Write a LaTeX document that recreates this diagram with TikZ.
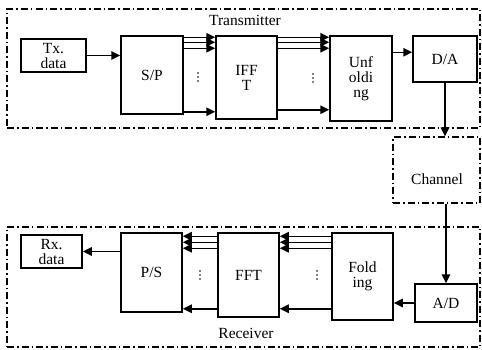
\documentclass[tikz,border=0pt]{standalone}
\usepackage{fontspec}
\setmainfont{Liberation Serif}
\usetikzlibrary{arrows.meta,calc}

\begin{document}
\begin{tikzpicture}[x=1pt, y=-1pt, >={Triangle[length=9pt,width=8.5pt]},
  every node/.style={font=\fontsize{15.5}{15}\selectfont},
  blk/.style={draw, line width=1.5pt, inner sep=0pt, align=center},
  dashframe/.style={draw, line width=1.3pt, dash pattern=on 7pt off 3pt on 1.5pt off 3pt, inner sep=0pt},
  arr/.style={->, line width=1.5pt},
  dot/.style={fill, radius=0.9pt}]
  \useasboundingbox (0,0) rectangle (482,349);
  % frames
  \node[dashframe, minimum width=473pt, minimum height=119pt] (txframe) at (243.5,68.5) {};
  \node[dashframe, minimum width=473pt, minimum height=120pt] (rxframe) at (243.5,287) {};
  \node[dashframe, minimum width=87pt, minimum height=66pt] (chan) at (436.5,170) {};
  \node (txlabel) at (245,20) {Transmitter};
  \node (rxlabel) at (246,333) {Receiver};
  \node (chanlabel) at (437,179) {Channel};
  % transmitter blocks
  \node[blk, minimum width=65pt, minimum height=33pt] (txd) at (53.5,55.5) {Tx.\\data};
  \node[blk, minimum width=62pt, minimum height=78pt] (sp) at (152,75) {S/P};
  \node[blk, minimum width=61pt, minimum height=83pt] (ifft) at (246.5,77.5) {IFF\\T};
  \node[blk, minimum width=62pt, minimum height=85pt] (unf) at (361,78.5) {Unf\\oldi\\ng};
  \node[blk, minimum width=64pt, minimum height=46pt] (da) at (445,59) {D/A};
  % receiver blocks
  \node[blk, minimum width=61pt, minimum height=33pt] (rxd) at (51.5,251.5) {Rx.\\data};
  \node[blk, minimum width=61pt, minimum height=79pt] (ps) at (151.5,272.5) {P/S};
  \node[blk, minimum width=61pt, minimum height=84pt] (fft) at (248.5,275) {FFT};
  \node[blk, minimum width=61pt, minimum height=87pt] (fold) at (362.5,276.5) {Fold\\ing};
  \node[blk, minimum width=62pt, minimum height=38pt] (ad) at (446,303) {A/D};
  % dots between parallel lines
  \coordinate (dsp) at (198,77);
  \coordinate (difft) at (313,78);
  \coordinate (dfft) at (200,275);
  \coordinate (dfold) at (317,275);
  \foreach \p in {dsp,difft,dfft,dfold}
    \foreach \k in {-4,0,4} \fill[dot] ($(\p)+(0,\k)$) circle;
  % transmitter connectors
  \draw[arr] (txd.east) -- (txd.east -| sp.west);
  \foreach \d in {2,7,13} {
    \coordinate (s\d) at ([yshift=-\d pt]sp.north east);
    \coordinate (i\d) at ([yshift=-\d pt]ifft.north east);
    \draw[arr] (s\d) -- (s\d -| ifft.west);
    \draw[arr] (i\d) -- (i\d -| unf.west);
  }
  \coordinate (sb) at ([yshift=3pt]sp.south east);
  \coordinate (ib) at ([yshift=10pt]ifft.south east);
  \draw[arr] (sb) -- (sb -| ifft.west);
  \draw[arr] (ib) -- (ib -| unf.west);
  \coordinate (u) at ([yshift=-17pt]unf.north east);
  \draw[arr] (u) -- (u -| da.west);
  % channel
  \draw[arr] (da.south) -- (da.south |- chan.north);
  \draw[arr] (ad.north |- chan.south) -- (ad.north);
  % receiver connectors
  \draw[arr] (ad.west) -- (ad.west -| fold.east);
  \foreach \d in {4,10,16} {
    \coordinate (f\d) at ([yshift=-\d pt]fold.north west);
    \coordinate (t\d) at ([yshift=-\d pt]fft.north west);
    \draw[arr] (f\d) -- (f\d -| fft.east);
    \draw[arr] (t\d) -- (t\d -| ps.east);
  }
  \coordinate (fb) at ([yshift=12pt]fold.south west);
  \coordinate (tb) at ([yshift=9pt]fft.south west);
  \draw[arr] (fb) -- (fb -| fft.east);
  \draw[arr] (tb) -- (tb -| ps.east);
  \draw[arr] (ps.west |- rxd.east) -- (rxd.east);
\end{tikzpicture}
\end{document}
